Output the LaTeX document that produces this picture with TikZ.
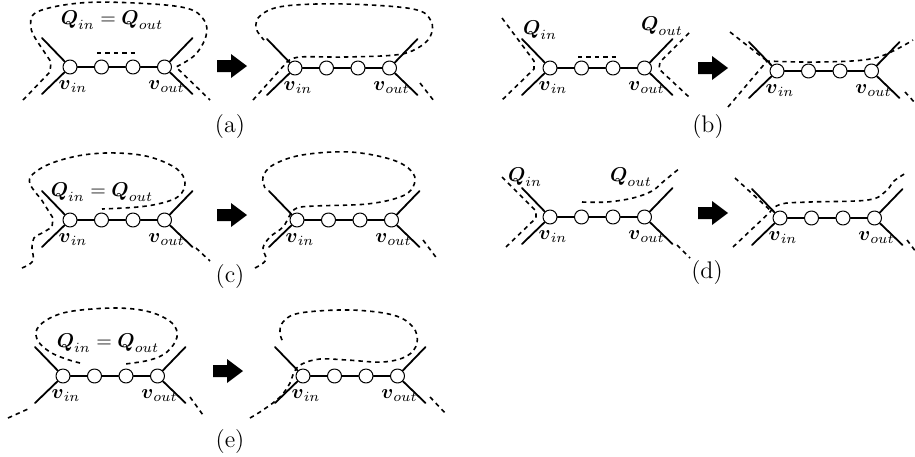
\documentclass[tikz,border=0pt]{standalone}
\usepackage{amsmath, amssymb}
\usepackage{tikz}

\tikzset{
  vert/.style={circle, draw, line width=0.5pt, fill=white, minimum size=7pt, inner sep=0pt},
  arista/.style={line width=0.9pt},
  corte/.style={line width=0.8pt, line cap=butt, dash pattern=on 2.2pt off 2pt},
  etiq/.style={inner sep=0pt},
  titulo/.style={font=\large},
  pics/flecha/.style={code={
    \fill (0,-6) -- (14,-6) -- (14,-12) -- (30,0) -- (14,12) -- (14,6) -- (0,6) -- cycle;
  }}
}

% Cadena de cuatro vertices con sus aristas
\newcommand{\cadena}[3]{%
  \foreach \i in {1,...,4}
    \node[vert] (#1\i) at ({#2+31.5*(\i-1)},#3) {};
  \draw[arista] (#11) -- (#12) -- (#13) -- (#14);
  \draw[arista] (#11) -- ++(-28,-29);
  \draw[arista] (#11) -- ++(-28,27);
  \draw[arista] (#14) -- ++(28,-29);
  \draw[arista] (#14) -- ++(28,27);
  \node[etiq] (#1in) at ([shift={(3,20)}]#11) {$\boldsymbol{v}_{in}$};
  \node[etiq] (#1out) at ([shift={(2,20)}]#14) {$\boldsymbol{v}_{out}$};
}

\begin{document}
\begin{tikzpicture}[x=0.5pt, y=-0.5pt, line cap=round, line join=round]
  \useasboundingbox (0,0) rectangle (915,456);

  % (a)
  \draw[corte] (23,100) -- (50,72) -- (51,62) -- (39,44)
    -- plot[smooth, tension=0.6] coordinates {(39,44) (31,28) (37,12) (80,3) (135,3) (186,8) (204,20) (206,36) (195,55) (176,67)}
    -- (210,100);
  \draw[corte] (97,53) -- (137,53);
  \cadena{aL}{70}{67}
  \node[etiq] (qa) at (112,20) {$\boldsymbol{Q}_{in} = \boldsymbol{Q}_{out}$};
  \pic at (217,66) {flecha};
  \draw[corte] (253,100) -- (287,62)
    -- plot[smooth, tension=0.6] coordinates {(287,62) (300,57) (345,57) (395,55) (416,49) (430,37) (431,21) (413,9) (345,4) (285,6) (261,15) (256,28) (264,40)};
  \draw[corte] (420,83) -- (434,101);
  \cadena{aR}{295}{68}
  \node[titulo] (capa) at (230,127) {(a)};

  % (b)
  \draw[corte] (502,18) -- (534,61) -- (534,69) -- (500,102);
  \draw[corte] (689,33) -- (660,62) -- (659,69) -- (689,97);
  \draw[corte] (578,57) -- (618,57);
  \cadena{bL}{550}{68}
  \node[etiq] (qbin) at (540,30) {$\boldsymbol{Q}_{in}$};
  \node[etiq] (qbout) at (662,26) {$\boldsymbol{Q}_{out}$};
  \pic at (698,68) {flecha};
  \draw[corte] (730,32) -- (767,61);
  \draw[corte] (728,107) -- (767,61)
    -- plot[smooth, tension=0.6] coordinates {(767,61) (820,62) (875,58) (913,40)};
  \draw[corte] (905,92) -- (916,104);
  \cadena{bR}{777}{71}
  \node[titulo] (capb) at (708,127) {(b)};

  % (c)
  \draw[corte] plot[smooth, tension=0.6] coordinates {(22,268) (33,261) (32,248) (34,238) (44,232) (52,227)}
    -- (53,218) -- (41,199)
    -- plot[smooth, tension=0.6] coordinates {(41,199) (30,184) (33,174) (52,163) (83,155) (117,153) (150,157) (177,169) (185,183) (179,196) (162,203) (138,207) (102,209)};
  \draw[corte] (196,248) -- (210,261);
  \cadena{cL}{70}{220}
  \node[etiq] (qc) at (102,192) {$\boldsymbol{Q}_{in} = \boldsymbol{Q}_{out}$};
  \pic at (217,215) {flecha};
  \draw[corte] plot[smooth, tension=0.6] coordinates {(255,268) (266,260) (263,248) (270,237) (283,227) (290,215) (297,208) (315,206) (367,204) (400,197) (413,187) (413,173) (393,160) (350,152) (302,155) (273,165) (263,177) (265,188)};
  \draw[corte] (423,240) -- (438,260);
  \cadena{cR}{297}{220}
  \node[titulo] (capc) at (230,277) {(c)};

  % (d)
  \draw[corte] (502,177) -- (536,211) -- (536,218) -- (505,248);
  \draw[corte] plot[smooth, tension=0.6] coordinates {(582,202) (607,202) (633,198) (652,191) (664,181) (680,168)};
  \draw[corte] (677,245) -- (690,258);
  \cadena{dL}{550}{217}
  \node[etiq] (qdin) at (525,177) {$\boldsymbol{Q}_{in}$};
  \node[etiq] (qdout) at (631,177) {$\boldsymbol{Q}_{out}$};
  \pic at (698,213) {flecha};
  \draw[corte] (735,178) -- (771,211);
  \draw[corte] (733,247) -- (770,212)
    -- plot[smooth, tension=0.6] coordinates {(770,212) (781,204) (810,202) (868,200) (886,191) (894,181) (906,173)};
  \draw[corte] (907,240) -- (916,252);
  \cadena{dR}{780}{218}
  \node[titulo] (capd) at (707,273) {(d)};

  % (e)
  \draw[corte] plot[smooth, tension=0.6] coordinates {(80,363) (66,359) (50,352) (38,341) (37,329) (50,318) (73,311) (117,308) (150,312) (172,323) (177,337) (167,352) (150,360) (125,364)};
  \draw[corte] (8,418) -- (28,409);
  \draw[corte] (190,397) -- (203,415);
  \cadena{eL}{63}{376}
  \node[etiq] (qe) at (108,343) {$\boldsymbol{Q}_{in} = \boldsymbol{Q}_{out}$};
  \pic at (213,371) {flecha};
  \draw[corte] plot[smooth, tension=0.6] coordinates {(250,418) (263,410) (280,397) (290,383) (294,372) (302,364) (320,359) (347,360) (383,362) (407,356) (417,343) (413,327) (393,315) (350,310) (300,313) (283,322) (280,333) (283,342)};
  \draw[corte] (430,397) -- (447,415);
  \cadena{eR}{303}{376}
  \node[titulo] (cape) at (230,442) {(e)};
\end{tikzpicture}
\end{document}
